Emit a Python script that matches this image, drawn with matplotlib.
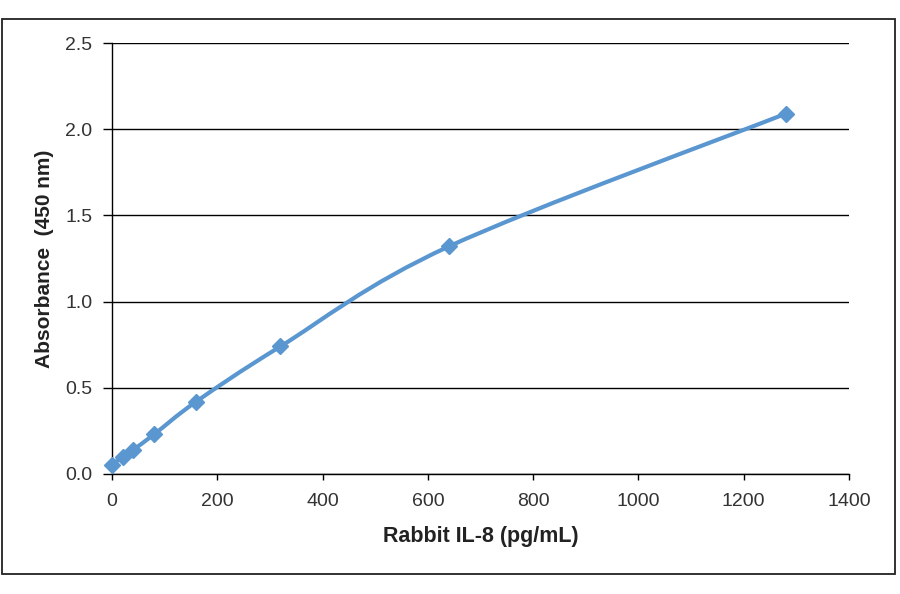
import numpy as np
import matplotlib
matplotlib.use('Agg')
import matplotlib.pyplot as plt
from matplotlib.path import Path
from matplotlib.patches import PathPatch, Rectangle

# Стандартная кривая: концентрация и поглощение
conc = [0, 20, 40, 80, 160, 320, 640, 1280]
absorbance = [0.052, 0.10, 0.14, 0.23, 0.42, 0.74, 1.32, 2.09]

x_ticks = [0, 200, 400, 600, 800, 1000, 1200, 1400]
y_ticks = [0.0, 0.5, 1.0, 1.5, 2.0, 2.5]

line_color = '#5a96cf'

plt.rcParams['font.family'] = ['Liberation Sans', 'DejaVu Sans']


def smooth_path(xs, ys):
    """Сглаженная линия как в Excel (кривые Безье через точки)."""
    pts = np.column_stack([xs, ys]).astype(float)
    verts = [pts[0]]
    codes = [Path.MOVETO]
    n = len(pts)
    for i in range(n - 1):
        p0 = pts[i - 1] if i > 0 else pts[i]
        p1 = pts[i]
        p2 = pts[i + 1]
        p3 = pts[i + 2] if i + 2 < n else pts[i + 1]
        c1 = p1 + (p2 - p0) / 6
        c2 = p2 - (p3 - p1) / 6
        verts += [c1, c2, p2]
        codes += [Path.CURVE4] * 3
    return Path(verts, codes)


fig = plt.figure(figsize=(9, 5.94), dpi=100)
ax = fig.add_axes([112 / 900, 1 - 474 / 594, 737 / 900, 431 / 594])

# Рамка вокруг всего рисунка
fig.patches.append(Rectangle((2 / 900, 1 - 574 / 594), 893 / 900, 555 / 594,
                             transform=fig.transFigure, fill=False,
                             edgecolor='#222222', linewidth=1.3))

ax.set_xlim(0, 1400)
ax.set_ylim(0, 2.5)
ax.set_xticks(x_ticks)
ax.set_yticks(y_ticks)
ax.set_yticklabels([f'{v:.1f}' for v in y_ticks])

ax.grid(axis='y', color='black', linewidth=1.0)
ax.set_axisbelow(True)
for side in ['top', 'right']:
    ax.spines[side].set_visible(False)
for side in ['left', 'bottom']:
    ax.spines[side].set_color('black')
    ax.spines[side].set_linewidth(1.0)

ax.tick_params(direction='out', width=1, colors='black',
               labelsize=14, labelcolor='#333333')
ax.tick_params(axis='x', length=4.5, pad=9.5)
ax.tick_params(axis='y', length=6.5, pad=7.5)

ax.add_patch(PathPatch(smooth_path(conc, absorbance), facecolor='none',
                       edgecolor=line_color, linewidth=3, zorder=3,
                       capstyle='round', joinstyle='round'))
ax.plot(conc, absorbance, linestyle='none', marker='D', markersize=8,
        color=line_color, zorder=4, clip_on=False)

ax.set_xlabel('Rabbit IL-8 (pg/mL)', fontsize=15.5, fontweight='bold',
              color='#222222', labelpad=11)
ax.set_ylabel('Absorbance  (450 nm)', fontsize=15, fontweight='bold',
              color='#222222', labelpad=8)

fig.savefig('out.png', dpi=100)
